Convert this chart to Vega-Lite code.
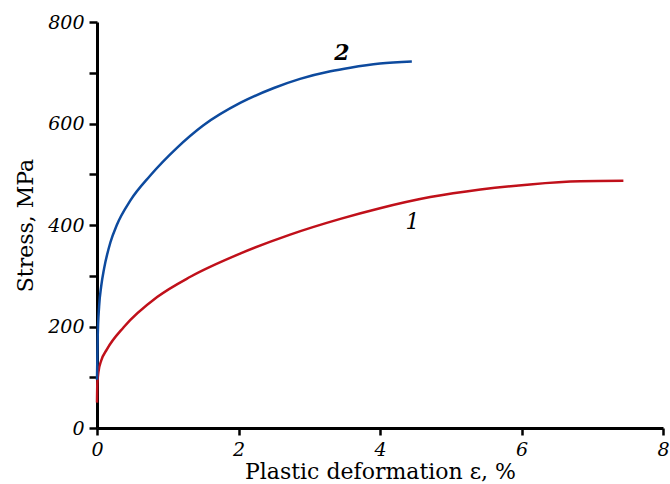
{
  "$schema": "https://vega.github.io/schema/vega-lite/v6.json",
  "autosize": {"type": "none"},
  "width": 566,
  "height": 406,
  "padding": {"left": 97, "top": 22, "right": 7, "bottom": 56},
  "background": "white",
  "config": {
    "view": {"stroke": null},
    "axis": {
      "grid": false,
      "domainColor": "black",
      "domainWidth": 3,
      "tickColor": "black",
      "tickWidth": 2.5,
      "tickSize": 8,
      "labelFont": "DejaVu Serif",
      "labelFontStyle": "italic",
      "labelFontSize": 19,
      "labelColor": "black",
      "titleFont": "DejaVu Serif",
      "titleFontWeight": "normal",
      "titleFontSize": 22,
      "titleColor": "black",
      "labelFlush": false,
      "labelOverlap": false
    }
  },
  "datasets": {
    "curves": [
      {"curve": "1", "strain": 0, "stress": 50},
      {"curve": "1", "strain": 0.005, "stress": 88},
      {"curve": "1", "strain": 0.02, "stress": 110},
      {"curve": "1", "strain": 0.06, "stress": 133},
      {"curve": "1", "strain": 0.14, "stress": 155},
      {"curve": "1", "strain": 0.38, "stress": 199},
      {"curve": "1", "strain": 0.85, "stress": 258},
      {"curve": "1", "strain": 1.32, "stress": 298},
      {"curve": "1", "strain": 2.03, "stress": 344},
      {"curve": "1", "strain": 2.73, "stress": 381},
      {"curve": "1", "strain": 3.44, "stress": 412},
      {"curve": "1", "strain": 4.0, "stress": 433},
      {"curve": "1", "strain": 4.71, "stress": 455},
      {"curve": "1", "strain": 5.42, "stress": 470},
      {"curve": "1", "strain": 6.12, "stress": 480},
      {"curve": "1", "strain": 6.83, "stress": 486},
      {"curve": "1", "strain": 7.44, "stress": 487},
      {"curve": "2", "strain": 0, "stress": 95},
      {"curve": "2", "strain": 0.01, "stress": 180},
      {"curve": "2", "strain": 0.03, "stress": 240},
      {"curve": "2", "strain": 0.06, "stress": 280},
      {"curve": "2", "strain": 0.1, "stress": 314},
      {"curve": "2", "strain": 0.19, "stress": 366},
      {"curve": "2", "strain": 0.28, "stress": 400},
      {"curve": "2", "strain": 0.47, "stress": 448},
      {"curve": "2", "strain": 0.75, "stress": 497},
      {"curve": "2", "strain": 1.13, "stress": 552},
      {"curve": "2", "strain": 1.5, "stress": 596},
      {"curve": "2", "strain": 2.03, "stress": 641},
      {"curve": "2", "strain": 2.5, "stress": 670},
      {"curve": "2", "strain": 2.87, "stress": 688},
      {"curve": "2", "strain": 3.3, "stress": 703},
      {"curve": "2", "strain": 3.58, "stress": 710},
      {"curve": "2", "strain": 4.0, "stress": 718},
      {"curve": "2", "strain": 4.45, "stress": 722}
    ],
    "labels": [
      {"curve": "1", "strain": 4.46, "stress": 406},
      {"curve": "2", "strain": 3.46, "stress": 738}
    ]
  },
  "layer": [
    {
      "data": {"name": "curves"},
      "mark": {"type": "line", "strokeWidth": 2.5, "interpolate": "monotone"},
      "encoding": {
        "x": {
          "field": "strain", "type": "quantitative",
          "scale": {"domain": [0, 8], "nice": false},
          "axis": {"values": [0, 2, 4, 6, 8], "format": "d", "title": "Plastic deformation ε, %", "tickSize": 7, "labelPadding": 5, "titlePadding": 2}
        },
        "y": {
          "field": "stress", "type": "quantitative",
          "scale": {"domain": [0, 800], "nice": false},
          "axis": {
            "values": [0, 100, 200, 300, 400, 500, 600, 700, 800],
            "labelExpr": "datum.value % 200 == 0 ? datum.label : ''",
            "title": "Stress, MPa",
            "labelPadding": 5,
            "titlePadding": 10
          }
        },
        "color": {
          "field": "curve", "type": "nominal",
          "scale": {"domain": ["1", "2"], "range": ["#c0101a", "#0d4a9e"]},
          "legend": null
        },
        "detail": {"field": "curve"}
      }
    },
    {
      "data": {"name": "labels"},
      "transform": [{"filter": "datum.curve == '1'"}],
      "mark": {"type": "text", "font": "DejaVu Serif", "fontStyle": "italic", "fontWeight": "normal", "fontSize": 22, "color": "black", "align": "center", "baseline": "middle"},
      "encoding": {
        "x": {"field": "strain", "type": "quantitative"},
        "y": {"field": "stress", "type": "quantitative"},
        "text": {"field": "curve"}
      }
    },
    {
      "data": {"name": "labels"},
      "transform": [{"filter": "datum.curve == '2'"}],
      "mark": {"type": "text", "font": "DejaVu Serif", "fontStyle": "italic", "fontWeight": "bold", "fontSize": 22, "color": "black", "align": "center", "baseline": "middle"},
      "encoding": {
        "x": {"field": "strain", "type": "quantitative"},
        "y": {"field": "stress", "type": "quantitative"},
        "text": {"field": "curve"}
      }
    }
  ]
}
